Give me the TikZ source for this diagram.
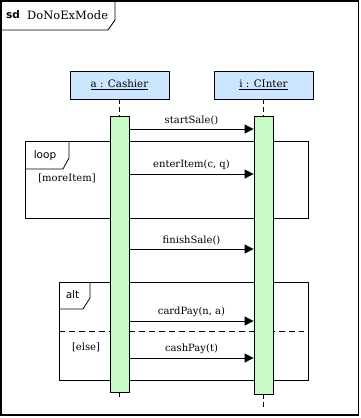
\documentclass[tikz,border=0pt]{standalone}
\usepackage{fontspec}
\setmainfont{DejaVu Serif}
\setsansfont{DejaVu Sans}
\usetikzlibrary{arrows.meta}
\definecolor{headblue}{RGB}{204,230,255}
\definecolor{actgreen}{RGB}{200,250,200}
\begin{document}
\begin{tikzpicture}[x=1pt,y=-1pt,
  txt/.style={font=\fontsize{10}{12}\selectfont, inner sep=0pt},
  tag/.style={font=\sffamily\fontsize{10.5}{12}\selectfont, inner sep=0pt},
  head/.style={draw, line width=0.8pt, fill=headblue, minimum width=99pt,
    minimum height=28pt, inner sep=0pt, font=\fontsize{10.3}{12}\selectfont},
  bar/.style={draw, line width=0.8pt, fill=actgreen, minimum width=19pt, inner sep=0pt},
  life/.style={line width=0.8pt, dash pattern=on 5pt off 3pt},
  fragment/.style={line width=0.8pt},
  msg/.style={line width=0.8pt, -{Triangle[length=9pt,width=9pt]}},
]
\useasboundingbox (0,0) rectangle (361,418);

% diagram frame with its name tab
\draw[line width=1.3pt] (1,1) rectangle (358.5,415);
\draw[line width=0.9pt] (115,1) -- (115,20) -- (108,30) -- (1,30);
\node[font=\sffamily\bfseries\fontsize{10.5}{12}\selectfont, inner sep=0pt, anchor=west] (sdtag) at (6,15) {sd};
\node[txt, font=\fontsize{11.5}{13}\selectfont, anchor=west] (title) at (27,15.5) {DoNoExMode};

% combined fragments (drawn before the activation bars)
\draw[fragment] (25,141) rectangle (308,218);
\draw[fragment] (69,141) -- (69,158) -- (63,169) -- (25,169);
\node[tag] (looptag) at (45,156) {loop};
\node[txt] (guard1) at (67,178) {[moreItem]};

\draw[fragment] (59,282) rectangle (308,380);
\draw[fragment] (90,282) -- (90,298) -- (83,309) -- (59,309);
\node[tag] (alttag) at (72.5,295) {alt};
\draw[fragment, dash pattern=on 6pt off 4pt] (59,331) -- (304,331);
\node[txt] (guard2) at (86,347) {[else]};

% lifeline heads
\node[head] (headA) at (119.5,85) {\underline{a : Cashier}};
\node[head] (headB) at (263.5,85) {\underline{i : CInter}};

% activation bars
\node[bar, minimum height=276pt] (barA) at (119.5,254) {};
\node[bar, minimum height=278pt] (barB) at (263.5,255) {};

% lifelines
\coordinate (endA) at (119.5,400);
\coordinate (endB) at (263.5,408);
\draw[life] (headA.south) -- (barA.north);
\draw[life] (headB.south) -- (barB.north);
\draw[life] (barA.south) -- (endA);
\draw[life] (barB.south) -- (endB);

% messages
\foreach \y/\name/\label in {129/m1/startSale(), 174/m2/{enterItem(c, q)}, 249/m3/finishSale(),
                             321/m4/{cardPay(n, a)}, 358/m5/cashPay(t)} {
  \coordinate (\name) at (191,\y);
  \draw[msg] (barA.east |- \name) -- (barB.west |- \name)
    node[txt, midway, above=4pt] {\label};
}
\end{tikzpicture}
\end{document}
